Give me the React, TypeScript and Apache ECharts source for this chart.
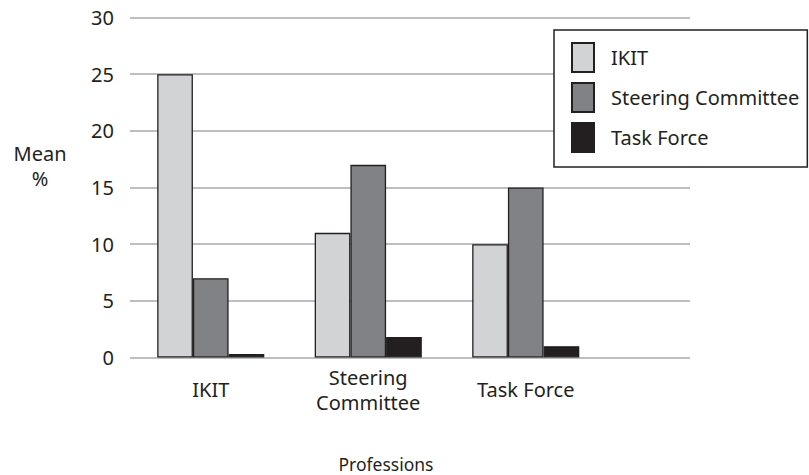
import React, { useEffect, useRef } from "react";
import * as echarts from "echarts";

const categories = ["IKIT", "Steering\nCommittee", "Task Force"];
const seriesNames = ["IKIT", "Steering Committee", "Task Force"];
const ikitValues = [25, 11, 10];
const steeringValues = [7, 17, 15];
const taskForceValues = [0.3, 1.8, 1];
const yTicks = { min: 0, max: 30, interval: 5 };
const yTitleLines = ["Mean", "%"];
const xTitle = "Professions";

const colors = ["#d1d3d4", "#808285", "#231f20"];
const FONT = "'Noto Sans', sans-serif";
const TEXT = "#231f20";

export default function App() {
  const ref = useRef<HTMLDivElement>(null);
  useEffect(() => {
    if (!ref.current) return;
    const chart = echarts.init(ref.current, undefined, { renderer: "svg" });
    const values = [ikitValues, steeringValues, taskForceValues];
    chart.setOption({
      animation: false,
      backgroundColor: "#fff",
      textStyle: { fontFamily: FONT },
      grid: [
        { left: 132, top: 17.5, width: 472.5, height: 340 },
        { left: 130, top: 17.5, width: 560, height: 340 },
      ],
      xAxis: [
        {
          type: "category",
          gridIndex: 0,
          data: categories,
          axisLine: { show: false },
          axisTick: { show: false },
          axisLabel: {
            fontSize: 20,
            lineHeight: 25,
            color: TEXT,
            fontFamily: FONT,
            margin: 32,
            verticalAlign: "middle",
          },
        },
        { type: "value", gridIndex: 1, min: 0, max: 1, show: false },
      ],
      yAxis: [
        { type: "value", gridIndex: 0, ...yTicks, show: false },
        {
          type: "value",
          gridIndex: 1,
          ...yTicks,
          axisLine: { show: false },
          axisTick: { show: false },
          axisLabel: { fontSize: 20, color: TEXT, fontFamily: FONT, margin: 16 },
          splitLine: { lineStyle: { color: "#a7a9ac", width: 1.5 } },
        },
      ],
      legend: {
        orient: "vertical",
        left: 554,
        top: 30,
        padding: [12, 8, 14, 17],
        itemWidth: 22,
        itemHeight: 29,
        itemGap: 9,
        icon: "rect",
        borderColor: "#231f20",
        borderWidth: 1.5,
        borderRadius: 0,
        backgroundColor: "#fff",
        textStyle: { fontSize: 20, color: TEXT, fontFamily: FONT, padding: [0, 0, 0, 12] },
        data: seriesNames,
      },
      series: seriesNames.map((name, i) => ({
        name,
        type: "bar",
        xAxisIndex: 0,
        yAxisIndex: 0,
        data: values[i],
        barGap: "0%",
        barCategoryGap: "32%",
        itemStyle: { color: colors[i], borderColor: "#231f20", borderWidth: 1.3 },
      })),
      graphic: [
        ...yTitleLines.map((t, i) => ({
          type: "text",
          x: 40,
          y: 153 + i * 25,
          style: {
            text: t,
            fontSize: 20,
            lineHeight: 22,
            fill: TEXT,
            fontFamily: FONT,
            align: "center",
            verticalAlign: "middle",
          },
        })),
        {
          type: "text",
          x: 386,
          y: 464,
          style: {
            text: xTitle,
            fontSize: 17.5,
            fill: TEXT,
            fontFamily: FONT,
            align: "center",
            verticalAlign: "middle",
          },
        },
      ],
    });
    return () => chart.dispose();
  }, []);
  return <div ref={ref} style={{ width: 809, height: 475, position: "absolute", left: 0, top: 0 }} />;
}
